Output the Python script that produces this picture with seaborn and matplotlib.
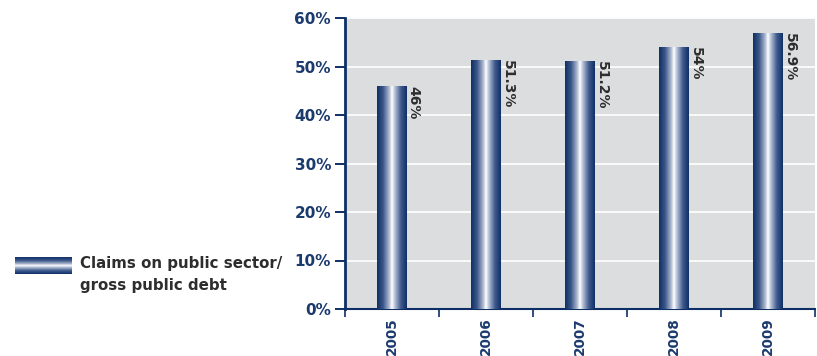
import numpy as np
import pandas as pd
import matplotlib
matplotlib.use("Agg")
import matplotlib.pyplot as plt
import seaborn as sns
from matplotlib.colors import LinearSegmentedColormap

years = ["2005", "2006", "2007", "2008", "2009"]
values = [46.0, 51.3, 51.2, 54.0, 56.9]
value_labels = ["46%", "51.3%", "51.2%", "54%", "56.9%"]
y_ticks = [0, 10, 20, 30, 40, 50, 60]
series_name = "Claims on public sector/\ngross public debt"

NAVY = "#0e2f66"
TEXT_NAVY = "#1b3a6e"
DARK = "#2d2d2d"
BG = "#dcdddf"

sns.set_theme(style="white")
plt.rcParams["font.family"] = ["DejaVu Sans"]

bar_cmap = LinearSegmentedColormap.from_list(
    "tube",
    [(0.0, NAVY), (0.2, "#3a5688"), (0.4, "#a9b6cf"), (0.5, "#ffffff"),
     (0.6, "#b3bfd6"), (0.8, "#3f5a8c"), (1.0, NAVY)],
)

fig = plt.figure(figsize=(8.17, 3.56), dpi=100)
ax = fig.add_axes([345 / 817, 47 / 356, 470 / 817, 291 / 356])
ax.set_facecolor(BG)

df = pd.DataFrame({"year": years, "value": values})
sns.barplot(data=df, x="year", y="value", color=NAVY, width=0.31,
            saturation=1, ax=ax, zorder=3)

grad = np.linspace(0, 1, 256).reshape(1, -1)
for patch in ax.patches:
    x0, y0 = patch.get_x(), patch.get_y()
    w, h = patch.get_width(), patch.get_height()
    im = ax.imshow(grad, cmap=bar_cmap, aspect="auto",
                   extent=(x0, x0 + w, y0, y0 + h), zorder=4)
    im.set_clip_path(patch)
    patch.set_edgecolor("none")

for i, (v, lab) in enumerate(zip(values, value_labels)):
    ax.text(i + 0.155, v, lab, rotation=-90, ha="left", va="top",
            fontsize=10, fontweight="bold", color=DARK, zorder=5)

ax.set_xlim(-0.5, len(years) - 0.5)
ax.set_ylim(0, 60)
ax.set_yticks(y_ticks)
ax.set_yticklabels([f"{t}%" for t in y_ticks], fontsize=11,
                   fontweight="bold", color=TEXT_NAVY)
ax.set_xticks(range(len(years)))
ax.set_xticklabels(years, rotation=90, fontsize=9.8, fontweight="bold",
                   color=TEXT_NAVY)
ax.set_xticks(np.arange(-0.5, len(years)), minor=True)
ax.tick_params(axis="x", which="major", length=0, pad=6)
ax.tick_params(axis="x", which="minor", length=6, width=1.2, color=NAVY,
               direction="out", bottom=True)
ax.tick_params(axis="y", which="major", length=7, width=1.4, color=NAVY,
               direction="out", left=True, pad=3)
ax.set_xlabel("")
ax.set_ylabel("")

ax.yaxis.grid(True, color="white", linewidth=1.2, zorder=0)
ax.set_axisbelow(True)
for side in ["top", "right"]:
    ax.spines[side].set_visible(False)
ax.spines["left"].set_color(NAVY)
ax.spines["left"].set_linewidth(2)
ax.spines["bottom"].set_color(NAVY)
ax.spines["bottom"].set_linewidth(1.5)

# legend swatch with a horizontal-tube gradient
lax = fig.add_axes([15 / 817, (356 - 274) / 356, 57 / 817, 17 / 356])
lax.imshow(np.linspace(0, 1, 256).reshape(-1, 1), cmap=bar_cmap,
           aspect="auto", extent=(0, 1, 0, 1))
lax.set_axis_off()
fig.text(80 / 817, 1 - 256 / 356, series_name, ha="left", va="top",
         fontsize=10.8, fontweight="bold", color=DARK, linespacing=1.6)

fig.savefig("out.png", dpi=100, facecolor="white")
